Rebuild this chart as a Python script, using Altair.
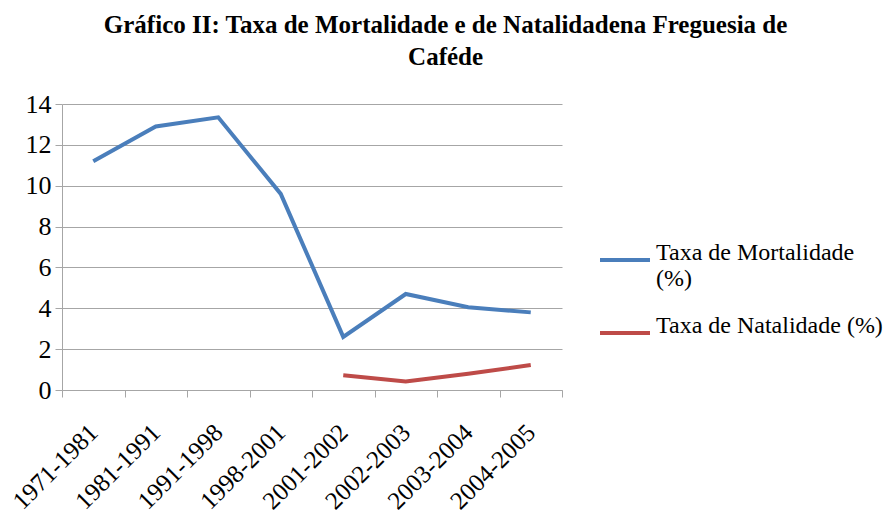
import json
import altair as alt
import pandas as pd

categories = ["1971-1981", "1981-1991", "1991-1998", "1998-2001",
              "2001-2002", "2002-2003", "2003-2004", "2004-2005"]
mortalidade = [11.2, 12.9, 13.35, 9.6, 2.6, 4.7, 4.05, 3.8]
natalidade = [None, None, None, None, 0.72, 0.42, 0.8, 1.22]
series_names = ["Taxa de Mortalidade (%)", "Taxa de Natalidade (%)"]
series_colors = ["#4A7EBB", "#BE4B48"]

rows = []
for name, vals in zip(series_names, [mortalidade, natalidade]):
    for i, (c, v) in enumerate(zip(categories, vals)):
        if v is not None:
            rows.append({"pos": i + 0.5, "periodo": c, "serie": name, "valor": v})
df = pd.DataFrame(rows)

cat_js = json.dumps(categories)
label_expr = f"datum.value % 1 == 0.5 ? {cat_js}[floor(datum.value)] : ''"
tick_vals = [i * 0.5 for i in range(2 * len(categories) + 1)]

FONT = "Liberation Serif"
GRID = "#A6A6A6"

chart = alt.Chart(df).mark_line(strokeWidth=4).encode(
    x=alt.X("pos:Q",
            scale=alt.Scale(domain=[0, len(categories)], nice=False, zero=False),
            axis=alt.Axis(title=None, values=tick_vals, labelExpr=label_expr,
                          grid=False, labelAngle=315, labelAlign="right",
                          labelBaseline="middle", labelPadding=31,
                          tickOpacity={"condition": {"test": "datum.value % 1 == 0", "value": 1}, "value": 0},
                          labelFontSize=25, labelFont=FONT, labelColor="#000000",
                          tickSize=7, tickColor=GRID, domainColor=GRID,
                          labelOverlap=False, labelBound=False, labelFlush=False)),
    y=alt.Y("valor:Q",
            scale=alt.Scale(domain=[0, 14], nice=False),
            axis=alt.Axis(title=None, values=list(range(0, 15, 2)), grid=True,
                          gridColor=GRID, gridWidth=1, domainColor=GRID,
                          tickColor=GRID, tickSize=7, labelPadding=4,
                          labelFontSize=26, labelFont=FONT, labelColor="#000000")),
    color=alt.Color("serie:N",
                    scale=alt.Scale(domain=series_names, range=series_colors),
                    legend=alt.Legend(title=None, orient="none", legendX=536, legendY=129,
                                      symbolType="stroke", symbolSize=2500,
                                      symbolStrokeWidth=4, labelFont=FONT,
                                      labelFontSize=24, labelColor="#000000",
                                      labelBaseline="alphabetic", labelLimit=400,
                                      rowPadding=15, padding=0,
                                      labelExpr="datum.label == 'Taxa de Mortalidade (%)' ? ['Taxa de Mortalidade', '(%)'] : datum.label")),
    detail="serie:N",
).properties(
    width=500, height=286,
    title=alt.TitleParams(["Gráfico II: Taxa de Mortalidade e de Natalidadena Freguesia de", "Caféde"],
                          font=FONT, fontSize=25, fontWeight="bold", color="#000000",
                          anchor="middle", frame="bounds", offset=21, lineHeight=32),
    padding={"left": 0, "top": 5, "right": 0, "bottom": 0},
).configure_view(stroke=None)

chart.save("out.html", embed_options={"renderer": "svg", "actions": False})
